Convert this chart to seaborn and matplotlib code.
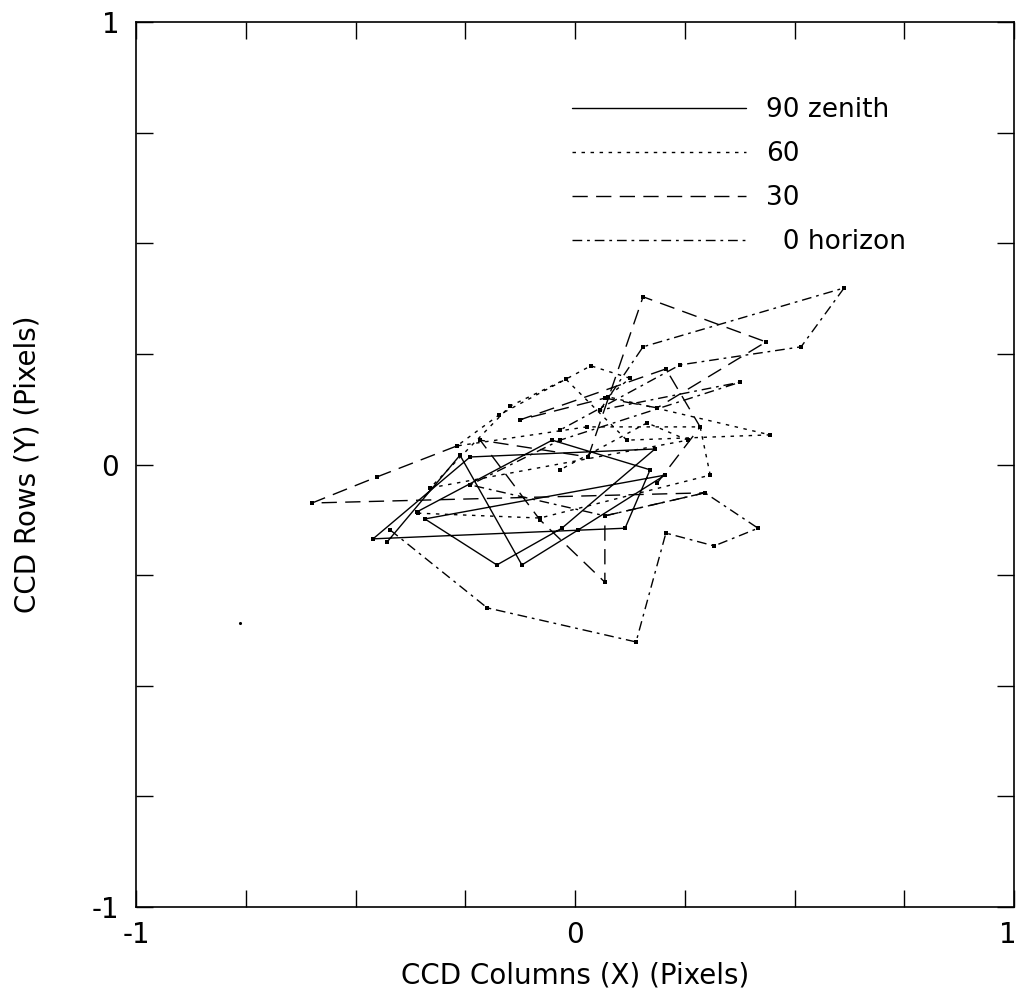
import numpy as np
import pandas as pd
import seaborn as sns
import matplotlib.pyplot as plt
from matplotlib.lines import Line2D
from matplotlib.transforms import ScaledTranslation

# centroid track for each elevation angle (pixels)
zenith_x = [-0.428, -0.262, -0.121, 0.007, 0.205, -0.342, -0.178, -0.030, 0.182, -0.239, -0.460, 0.114, 0.171, -0.052, -0.360]
zenith_y = [-0.175, 0.021, -0.227, -0.148, -0.024, -0.123, -0.227, -0.144, 0.035, 0.017, -0.168, -0.144, -0.012, 0.055, -0.107]

el60_x = [-0.358, -0.080, 0.308, 0.285, 0.027, -0.269, -0.173, 0.036, 0.125, 0.075, 0.444, 0.118, -0.021, -0.148, -0.330, 0.257, 0.164, -0.034]
el60_y = [-0.110, -0.121, -0.024, 0.085, 0.085, 0.042, 0.112, 0.223, 0.195, 0.153, 0.067, 0.055, 0.193, 0.132, -0.053, 0.055, 0.094, -0.012]

el30_x = [-0.269, -0.451, -0.599, 0.296, 0.068, 0.068, -0.080, -0.216, 0.030, 0.155, 0.435, 0.187, 0.068, -0.125, 0.207, 0.285, 0.187]
el30_y = [0.042, -0.028, -0.087, -0.064, -0.116, -0.266, -0.125, 0.055, 0.017, 0.379, 0.277, 0.128, 0.150, 0.101, 0.216, 0.085, -0.042]

horizon_x = [-0.421, -0.200, 0.139, 0.207, 0.317, 0.417, 0.296, 0.068, -0.239, -0.034, 0.376, 0.057, 0.155, 0.613, 0.515, 0.239, -0.034]
horizon_y = [-0.148, -0.324, -0.401, -0.155, -0.184, -0.144, -0.064, -0.116, -0.046, 0.055, 0.186, 0.123, 0.266, 0.399, 0.266, 0.225, 0.078]

stray_x = [-0.763]
stray_y = [-0.358]

labels = ['90 zenith', '60', '30', '  0 horizon']
styles = ['-', (0, (2.5, 4)), (0, (11, 6)), (0, (7, 3.5, 2, 3.5))]

sns.set_style('ticks')
plt.rcParams['font.family'] = ['DejaVu Sans']
plt.rcParams['text.color'] = 'black'
plt.rcParams['axes.labelcolor'] = 'black'

fig = plt.figure(figsize=(10.18, 10), dpi=100)
ax = fig.add_axes([0.1336, 0.093, 0.8625, 0.885])

series = [(zenith_x, zenith_y), (el60_x, el60_y), (el30_x, el30_y), (horizon_x, horizon_y)]
for (xs, ys), ls in zip(series, styles):
    df = pd.DataFrame({'x': xs, 'y': ys})
    sns.lineplot(data=df, x='x', y='y', sort=False, estimator=None, color='black',
                 linestyle=ls, linewidth=1.0, marker='s', markersize=3.5,
                 markeredgewidth=0, ax=ax)

sns.scatterplot(x=stray_x, y=stray_y, color='black', s=5, linewidth=0, ax=ax)

ax.set_xlim(-1, 1)
ax.set_ylim(-1, 1)
ticks = np.arange(-1, 1.01, 0.25)
ax.set_xticks(ticks)
ax.set_yticks(ticks)
ax.set_xticklabels(['-1', '', '', '', '0', '', '', '', '1'])
ax.set_yticklabels(['-1', '', '', '', '0', '', '', '', '1'])
ax.tick_params(direction='in', length=12, width=1, top=True, right=True,
               labelsize=20, colors='black')
ax.tick_params(axis='x', pad=10)
ax.tick_params(axis='y', pad=12)
# keep the right-most "1" inside the figure
last = ax.get_xticklabels()[-1]
last.set_transform(last.get_transform() + ScaledTranslation(-6 / 100, 0, fig.dpi_scale_trans))
for s in ax.spines.values():
    s.set_linewidth(1.2)
    s.set_color('black')

ax.set_xlabel('CCD Columns (X) (Pixels)', fontsize=20)
ax.set_ylabel('CCD Rows (Y) (Pixels)', fontsize=20)
ax.xaxis.set_label_coords(0.5, -0.062)
ax.yaxis.set_label_coords(-0.108, 0.5)

handles = [Line2D([], [], color='black', linestyle=ls, linewidth=1.0) for ls in styles]
ax.legend(handles, labels, loc='upper left', bbox_to_anchor=(0.4966, 0.9155), frameon=False,
          fontsize=19, handlelength=6.6, handletextpad=0.75, labelspacing=0.69,
          borderpad=0, borderaxespad=0)

fig.savefig('out.png', dpi=100)
